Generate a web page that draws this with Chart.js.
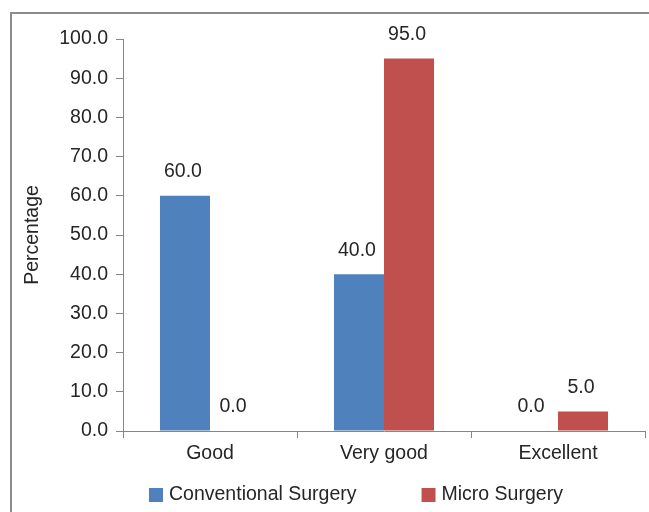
<!DOCTYPE html>
<html>
<head>
<meta charset="utf-8">
<script src="https://cdn.jsdelivr.net/npm/chart.js@4/dist/chart.umd.min.js"></script>
<style>
  html, body { margin: 0; padding: 0; background: #ffffff; }
  #wrap { position: relative; width: 649px; height: 512px; overflow: hidden; }
  #frame { position: absolute; left: 10px; top: 12px; right: -10px; bottom: -10px;
           border-left: 2px solid #8c8c8c; border-top: 2px solid #8c8c8c; }
  canvas { position: absolute; left: 0; top: 0; }
</style>
</head>
<body>
<div id="wrap">
  <div id="frame"></div>
  <canvas id="chart" width="649" height="512"></canvas>
</div>
<script>
// Outcome grading by surgical technique (percent of patients)
const categories = ['Good', 'Very good', 'Excellent'];
const conventionalSurgery = [60.0, 40.0, 0.0];
const microSurgery = [0.0, 95.0, 5.0];
const yTickValues = [0, 10, 20, 30, 40, 50, 60, 70, 80, 90, 100];
const seriesNames = ['Conventional Surgery', 'Micro Surgery'];
const axisTitle = 'Percentage';

const FONT = '"Liberation Sans", Arial, Helvetica, sans-serif';
const FONT_SIZE = 19.5;
const TEXT = '#262626';
const AXIS = '#868686';

Chart.defaults.font.family = FONT;
Chart.defaults.font.size = FONT_SIZE;
Chart.defaults.color = TEXT;

// Value labels above every bar
const valueLabels = {
  id: 'valueLabels',
  afterDatasetsDraw(chart) {
    const ctx = chart.ctx;
    ctx.save();
    ctx.font = FONT_SIZE + 'px ' + FONT;
    ctx.fillStyle = TEXT;
    ctx.textAlign = 'center';
    ctx.textBaseline = 'middle';
    chart.data.datasets.forEach((ds, i) => {
      chart.getDatasetMeta(i).data.forEach((bar, j) => {
        ctx.fillText(Number(ds.data[j]).toFixed(1), bar.x - 2, bar.y - 24);
      });
    });
    ctx.restore();
  }
};

// Series key under the axis
const seriesKey = {
  id: 'seriesKey',
  afterDraw(chart) {
    const ctx = chart.ctx;
    ctx.save();
    ctx.font = FONT_SIZE + 'px ' + FONT;
    ctx.textBaseline = 'middle';
    ctx.textAlign = 'left';
    let x = 149;
    const y = 495;
    chart.data.datasets.forEach(ds => {
      ctx.fillStyle = ds.backgroundColor;
      ctx.fillRect(x, y - 7, 14, 14);
      ctx.fillStyle = TEXT;
      ctx.fillText(ds.label, x + 20, y);
      x += 20 + ctx.measureText(ds.label).width + 65;
    });
    ctx.restore();
  }
};

new Chart(document.getElementById('chart'), {
  type: 'bar',
  data: {
    labels: categories,
    datasets: [
      { label: seriesNames[0], data: conventionalSurgery, backgroundColor: '#4f81bd' },
      { label: seriesNames[1], data: microSurgery, backgroundColor: '#c0504d' }
    ]
  },
  options: {
    responsive: false,
    animation: false,
    devicePixelRatio: 1,
    categoryPercentage: 0.575,
    barPercentage: 1.0,
    layout: { padding: { left: 0, right: 4, top: 39, bottom: 0 } },
    plugins: {
      legend: { display: false },
      tooltip: { enabled: false }
    },
    scales: {
      x: {
        grid: { display: true, drawOnChartArea: false, drawTicks: true, tickLength: 7, color: AXIS, offset: true },
        border: { display: true, color: AXIS, width: 1 },
        ticks: { padding: 4, color: TEXT, font: { size: FONT_SIZE } },
        afterFit(scale) { scale.height = 81; }
      },
      y: {
        min: 0,
        max: 100,
        grid: { display: true, drawOnChartArea: false, drawTicks: true, tickLength: 7, color: AXIS },
        border: { display: true, color: AXIS, width: 1 },
        ticks: {
          padding: 8,
          color: TEXT,
          font: { size: FONT_SIZE },
          callback: v => Number(v).toFixed(1)
        },
        afterBuildTicks(scale) { scale.ticks = yTickValues.map(v => ({ value: v })); },
        title: { display: true, text: axisTitle, color: TEXT, font: { size: FONT_SIZE }, padding: { top: 21, bottom: 0 } },
        afterFit(scale) { scale.width = 123; }
      }
    }
  },
  plugins: [valueLabels, seriesKey]
});
</script>
</body>
</html>
